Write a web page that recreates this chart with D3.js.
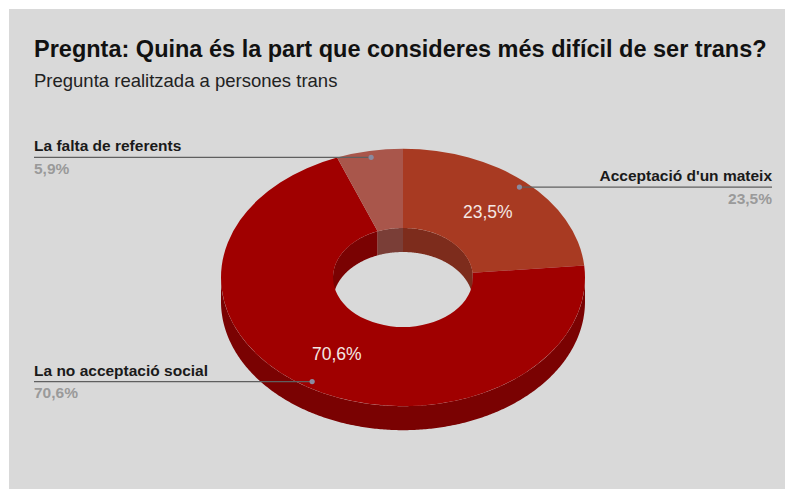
<!DOCTYPE html>
<html>
<head>
<meta charset="utf-8">
<script src="https://cdn.jsdelivr.net/npm/d3@7"></script>
<style>
  html, body { margin: 0; padding: 0; background: #ffffff; }
  svg { display: block; font-family: "Liberation Sans", Arial, sans-serif; }
</style>
</head>
<body>
<svg id="chart" width="785" height="489"></svg>
<script>
// ---- data ----
const categories = ["Acceptació d'un mateix", "La no acceptació social", "La falta de referents"];
const values = [23.5, 70.6, 5.9];
const valueLabels = ["23,5%", "70,6%", "5,9%"];
const topColors = ["#a83a22", "#a00000", "#a9564b"];
const sideColors = ["#7d2c1c", "#7a0202", "#7a3e37"];
const titleText = "Pregnta: Quina és la part que consideres més difícil de ser trans?";
const subtitleText = "Pregunta realitzada a persones trans";

// ---- layout ----
const W = 785, H = 489;
const cx = 403, cy = 277.5;
const rOut = 182, rIn = 70;
const k = 0.707;      // vertical squash (tilt)
const depth = 24;     // 3D thickness

const svg = d3.select("#chart");
svg.append("rect").attr("x", 0).attr("y", 0).attr("width", W).attr("height", H).attr("fill", "#ffffff");
svg.append("rect").attr("x", 9).attr("y", 9).attr("width", W - 9).attr("height", H - 9).attr("fill", "#d9d9d9");

svg.append("text").attr("x", 34).attr("y", 57)
  .attr("font-size", 23.5).attr("font-weight", "bold").attr("fill", "#111")
  .text(titleText);
svg.append("text").attr("x", 34).attr("y", 87)
  .attr("font-size", 18.5).attr("fill", "#222")
  .text(subtitleText);

const pie = d3.pie().sort(null).value(d => d.v);
const arcs = pie(values.map((v, i) => ({ v, i })));

const proj = (r, a, dy) => [cx + r * Math.sin(a), cy - r * k * Math.cos(a) + (dy || 0)];
const line = d3.line();

function wallPath(r, a0, a1) {
  const n = Math.max(2, Math.ceil((a1 - a0) / 0.01));
  const pts = [];
  for (let j = 0; j <= n; j++) pts.push(proj(r, a0 + (a1 - a0) * j / n, 0));
  for (let j = n; j >= 0; j--) pts.push(proj(r, a0 + (a1 - a0) * j / n, depth));
  return line(pts) + "Z";
}
function intersect(a0, a1, lo, hi) {
  const out = [];
  for (const s of [-2 * Math.PI, 0, 2 * Math.PI]) {
    const b0 = Math.max(a0, lo + s), b1 = Math.min(a1, hi + s);
    if (b1 > b0) out.push([b0, b1]);
  }
  return out;
}

const g = svg.append("g");
// inner walls (far side, seen through hole)
arcs.forEach(d => {
  intersect(d.startAngle, d.endAngle, -Math.PI / 2, Math.PI / 2).forEach(([a0, a1]) => {
    g.append("path").attr("d", wallPath(rIn, a0, a1)).attr("fill", sideColors[d.data.i]);
  });
});
// outer walls (near side)
arcs.forEach(d => {
  intersect(d.startAngle, d.endAngle, Math.PI / 2, 3 * Math.PI / 2).forEach(([a0, a1]) => {
    g.append("path").attr("d", wallPath(rOut, a0, a1)).attr("fill", sideColors[d.data.i]);
  });
});
// top faces
const arc = d3.arc().innerRadius(rIn).outerRadius(rOut);
g.append("g").attr("transform", `translate(${cx},${cy}) scale(1,${k})`)
  .selectAll("path").data(arcs).join("path")
  .attr("d", arc)
  .attr("fill", d => topColors[d.data.i]);

// in-slice percentage labels
arcs.forEach(d => {
  if (d.endAngle - d.startAngle < 0.5) return;
  const c = arc.centroid(d);
  svg.append("text").attr("x", cx + c[0]).attr("y", cy + c[1] * k + 6.5)
    .attr("text-anchor", "middle").attr("font-size", 17.5).attr("fill", "#f4e8e4")
    .text(valueLabels[d.data.i]);
});

// leader lines + outside labels
arcs.forEach(d => {
  const a = (d.startAngle + d.endAngle) / 2;
  const p = proj(173, a, 0);
  const left = p[0] < cx;
  const xEnd = left ? 34 : 772;
  svg.append("line").attr("x1", p[0]).attr("y1", p[1]).attr("x2", xEnd).attr("y2", p[1])
    .attr("stroke", "#5f5f5f").attr("stroke-width", 1.2);
  svg.append("circle").attr("cx", p[0]).attr("cy", p[1]).attr("r", 2.6).attr("fill", "#8a8aa0");
  svg.append("text").attr("x", xEnd).attr("y", p[1] - 6)
    .attr("text-anchor", left ? "start" : "end")
    .attr("font-size", 15.5).attr("font-weight", "bold").attr("fill", "#1a1a1a")
    .text(categories[d.data.i]);
  svg.append("text").attr("x", xEnd).attr("y", p[1] + 16.5)
    .attr("text-anchor", left ? "start" : "end")
    .attr("font-size", 15.5).attr("font-weight", "bold").attr("fill", "#9a9a9a")
    .text(valueLabels[d.data.i]);
});
</script>
</body>
</html>
